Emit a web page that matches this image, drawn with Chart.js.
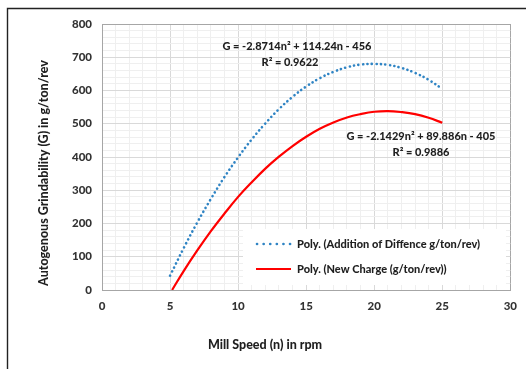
<!DOCTYPE html>
<html><head><meta charset="utf-8">
<script src="https://cdn.jsdelivr.net/npm/chart.js@4.4.0/dist/chart.umd.min.js"></script>
<style>html,body{margin:0;padding:0;background:#fff}#wrap{width:526px;height:369px;position:relative}</style>
</head><body><div id="wrap"><canvas id="c" width="526" height="369"></canvas></div>
<script>
// Mill speed (rpm) positions read along each trendline
const speedsAddition = [5,6,7,8,9,10,11,12,13,14,15,16,17,18,19,20,21,22,23,24,25];
const additionOfDifference = [43,126,203,274,340,399,453,501,544,581,612,637,656,670,678,680,677,668,653,632,605];
const speedsNewCharge = [5.15,6,7,8,9,10,11,12,13,14,15,16,17,18,19,20,21,22,23,24,25];
const newCharge = [0,57,119,177,230,280,324,365,401,433,461,485,504,519,529,536,538,535,529,518,503];
const seriesLabels = ['Poly. (Addition of Diffence g/ton/rev)', 'Poly. (New Charge (g/ton/rev))'];
const equations = [
  ['G = -2.8714n\u00B2 + 114.24n - 456', 'R\u00B2 = 0.9622'],
  ['G = -2.1429n\u00B2 + 89.886n - 405', 'R\u00B2 = 0.9886']
];
const xTitle = 'Mill Speed (n) in rpm';
const yTitle = 'Autogenous Grindability (G) in g/ton/rev';
const xRange = [0, 30];
const yRange = [0, 800];

const FONT = 'Lato, "Open Sans", sans-serif';
const WEIGHT = '900';
const BLUE = '#2f84c4';
const RED = '#ff0000';
const TEXT = '#1f1f1f';

const pts = (xs, ys) => xs.map((x, i) => ({x, y: ys[i]}));

const decor = {
  id: 'decor',
  beforeDraw(chart) {
    const c = chart.ctx;
    c.save();
    c.fillStyle = '#fff';
    c.fillRect(0, 0, chart.width, chart.height);
    c.restore();
  },
  afterDraw(chart) {
    const c = chart.ctx;
    c.save();
    // outer frame
    c.strokeStyle = '#222';
    c.lineWidth = 1.4;
    c.beginPath();
    c.moveTo(7.5, chart.height);
    c.lineTo(7.5, 8.5);
    c.lineTo(chart.width, 8.5);
    c.stroke();

    // axis titles
    c.fillStyle = TEXT;
    c.font = WEIGHT + ' 12.5px ' + FONT;
    c.textAlign = 'center';
    c.textBaseline = 'middle';
    c.fillText(xTitle, 265, 345);
    c.save();
    c.translate(44, 173);
    c.rotate(-Math.PI / 2);
    c.fillText(yTitle, 0, 0);
    c.restore();

    // equations
    c.font = WEIGHT + ' 11px ' + FONT;
    c.fillText(equations[0][0], 297, 46);
    c.fillText(equations[0][1], 290, 62);
    c.fillText(equations[1][0], 421, 136);
    c.fillText(equations[1][1], 421, 152);

    // legend
    c.fillStyle = '#fff';
    c.fillRect(243, 229, 263, 56);
    const ly = [244, 269];
    c.strokeStyle = BLUE;
    c.lineWidth = 2.6;
    c.lineCap = 'round';
    c.setLineDash([0.1, 6.5]);
    c.beginPath(); c.moveTo(257, ly[0]); c.lineTo(291, ly[0]); c.stroke();
    c.setLineDash([]);
    c.lineCap = 'butt';
    c.strokeStyle = RED;
    c.lineWidth = 2.2;
    c.beginPath(); c.moveTo(256, ly[1]); c.lineTo(291, ly[1]); c.stroke();
    c.fillStyle = TEXT;
    c.textAlign = 'left';
    c.font = WEIGHT + ' 11px ' + FONT;
    c.fillText(seriesLabels[0], 297, ly[0]);
    c.fillText(seriesLabels[1], 297, ly[1]);
    c.restore();
  }
};

new Chart(document.getElementById('c'), {
  type: 'scatter',
  data: {
    datasets: [
      {
        label: seriesLabels[0],
        data: pts(speedsAddition, additionOfDifference),
        showLine: true,
        borderColor: BLUE,
        borderWidth: 2.6,
        borderDash: [0.1, 4.4],
        borderCapStyle: 'round',
        pointRadius: 0,
        tension: 0.4,
        fill: false
      },
      {
        label: seriesLabels[1],
        data: pts(speedsNewCharge, newCharge),
        showLine: true,
        borderColor: RED,
        borderWidth: 2.2,
        pointRadius: 0,
        tension: 0.4,
        fill: false
      }
    ]
  },
  options: {
    responsive: false,
    animation: false,
    devicePixelRatio: 1,
    layout: { padding: { top: 24, right: 15, left: 0, bottom: 0 } },
    plugins: { legend: { display: false }, tooltip: { enabled: false } },
    scales: {
      x: {
        type: 'linear',
        min: xRange[0], max: xRange[1],
        afterFit(s) { s.height = 79; },
        border: { display: true, color: '#a6a6a6', width: 1 },
        grid: {
          drawTicks: false,
          color: ctx => (ctx.tick.value === xRange[1] ? '#a6a6a6' : (ctx.tick.value % 5 === 0 ? '#d9d9d9' : '#efefef')),
          lineWidth: 1
        },
        ticks: {
          stepSize: 1, autoSkip: false, maxTicksLimit: 100, maxRotation: 0,
          padding: 9,
          color: '#333',
          font: { family: FONT, size: 11.5, weight: WEIGHT },
          callback: v => (v % 5 === 0 ? String(v) : '')
        }
      },
      y: {
        type: 'linear',
        min: yRange[0], max: yRange[1],
        afterFit(s) { s.width = 102; },
        border: { display: true, color: '#a6a6a6', width: 1 },
        grid: {
          drawTicks: false,
          color: ctx => (ctx.tick.value === yRange[1] ? '#a6a6a6' : (ctx.tick.value % 100 === 0 ? '#d9d9d9' : '#efefef')),
          lineWidth: 1
        },
        ticks: {
          stepSize: 20, autoSkip: false, maxTicksLimit: 100,
          padding: 10,
          color: '#333',
          font: { family: FONT, size: 11.5, weight: WEIGHT },
          callback: v => (v % 100 === 0 ? String(v) : '')
        }
      }
    }
  },
  plugins: [decor]
});
</script>
</body></html>
